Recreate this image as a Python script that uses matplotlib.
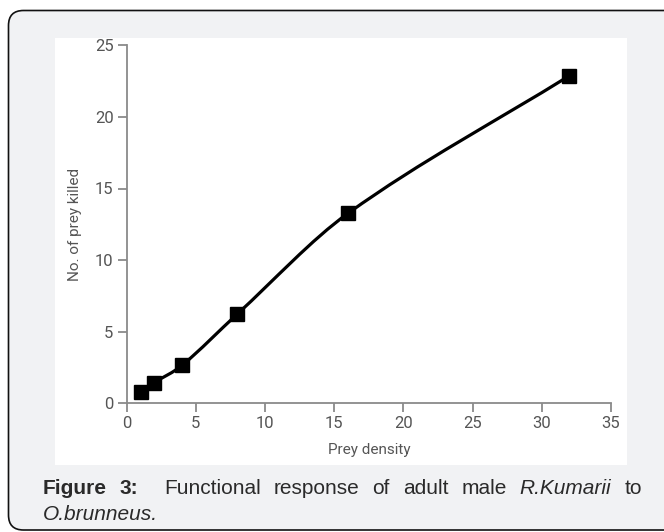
import matplotlib
matplotlib.use("Agg")
import matplotlib.pyplot as plt
from matplotlib.patches import FancyBboxPatch, Rectangle, PathPatch
from matplotlib.path import Path

# data
prey_density = [1, 2, 4, 8, 16, 32]
prey_killed = [0.8, 1.45, 2.65, 6.24, 13.27, 22.88]
x_ticks = [0, 5, 10, 15, 20, 25, 30, 35]
y_ticks = [0, 5, 10, 15, 20, 25]

W, H = 664, 532
fig = plt.figure(figsize=(W / 100, H / 100), dpi=100)
fig.patch.set_facecolor("white")

# grey card with rounded border (inches)
card = FancyBboxPatch((0.085, 0.02), 6.9, 5.195,
                      boxstyle="round,pad=0,rounding_size=0.15",
                      transform=fig.dpi_scale_trans, facecolor="#f1f2f4",
                      edgecolor="#111111", linewidth=1.2, zorder=-2)
fig.patches.append(card)
panel = Rectangle((0.55, 0.67), 5.72, 4.27, transform=fig.dpi_scale_trans,
                  facecolor="white", edgecolor="none", zorder=-1)
fig.patches.append(panel)

ax = fig.add_axes([126.7 / W, 1 - 403.3 / H, (611 - 126.7) / W, (403.3 - 45.3) / H])
ax.set_zorder(1)
ax.set_facecolor("none")
ax.set_xlim(0, 35)
ax.set_ylim(0, 25)

# smooth curve through the points (cubic hermite -> bezier)
n = len(prey_density)
slopes = []
for i in range(n):
    if i == 0:
        s = (prey_killed[1] - prey_killed[0]) / (prey_density[1] - prey_density[0])
    elif i == n - 1:
        s = (prey_killed[-1] - prey_killed[-2]) / (prey_density[-1] - prey_density[-2])
    else:
        s = (prey_killed[i + 1] - prey_killed[i - 1]) / (prey_density[i + 1] - prey_density[i - 1])
    slopes.append(s)
verts = [(prey_density[0], prey_killed[0])]
codes = [Path.MOVETO]
for i in range(n - 1):
    h = prey_density[i + 1] - prey_density[i]
    verts += [(prey_density[i] + h / 3, prey_killed[i] + slopes[i] * h / 3),
              (prey_density[i + 1] - h / 3, prey_killed[i + 1] - slopes[i + 1] * h / 3),
              (prey_density[i + 1], prey_killed[i + 1])]
    codes += [Path.CURVE4] * 3
ax.add_patch(PathPatch(Path(verts, codes), fill=False, edgecolor="black",
                       linewidth=2.3, capstyle="round", clip_on=False, zorder=2))
ax.plot(prey_density, prey_killed, "s", ms=10.5, color="black", clip_on=False, zorder=3)

grey = "#8a8a8a"
for side in ["top", "right"]:
    ax.spines[side].set_visible(False)
for side in ["left", "bottom"]:
    ax.spines[side].set_color(grey)
    ax.spines[side].set_linewidth(1.3)
ax.set_xticks(x_ticks)
ax.set_yticks(y_ticks)
ax.tick_params(length=6.5, width=1.3, color=grey, labelcolor="#555555",
               labelsize=12, pad=3)
for lab in ax.get_xticklabels() + ax.get_yticklabels():
    lab.set_family("Roboto")
ax.set_xlabel("Prey density", family="Roboto", fontsize=11, color="#555555", labelpad=8)
ax.set_ylabel("No. of prey killed", family="Roboto", fontsize=11, color="#555555", labelpad=9)

# justified caption
cap_font = dict(family="Liberation Sans", fontsize=15, color="#2a2a2a", va="baseline")
words = [("Figure", "bold", "normal"), ("3:", "bold", "normal"),
         ("Functional", "normal", "normal"), ("response", "normal", "normal"),
         ("of", "normal", "normal"), ("adult", "normal", "normal"),
         ("male", "normal", "normal"), ("R.Kumarii", "normal", "italic"),
         ("to", "normal", "normal")]
gap_weights = [1, 2, 1, 1, 1, 1, 1, 1]
x0, x1, base1, base2 = 42.7, 641.7, 494, 520
texts = [fig.text(0, 1 - base1 / H, w, fontweight=fw, fontstyle=fs, **cap_font)
         for w, fw, fs in words]
renderer = fig.canvas.get_renderer()
widths = [t.get_window_extent(renderer).width for t in texts]
unit = (x1 - x0 - sum(widths)) / sum(gap_weights)
x = x0
for i, t in enumerate(texts):
    t.set_x(x / W)
    x += widths[i]
    if i < len(gap_weights):
        x += unit * gap_weights[i]
fig.text(x0 / W, 1 - base2 / H, "O.brunneus.", fontstyle="italic", **cap_font)

fig.savefig("out.png", dpi=100)
